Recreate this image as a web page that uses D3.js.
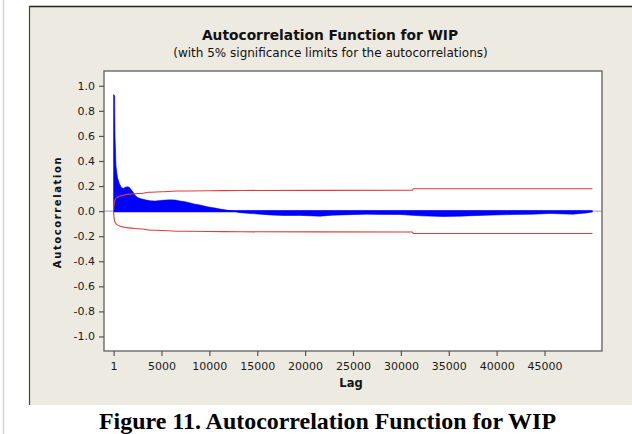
<!DOCTYPE html>
<html>
<head>
<meta charset="utf-8">
<script src="https://cdn.jsdelivr.net/npm/d3@7"></script>
<style>
  html, body { margin: 0; padding: 0; background: #ffffff; }
  svg { display: block; }
</style>
</head>
<body>
<svg id="chart" width="632" height="434"></svg>
<script>
// ---- data ----
const acfLags = [1, 110, 150, 250, 400, 600, 804, 1013, 1221, 1430, 1638, 1847, 2087, 2264, 2473, 2786,
  3308, 3830, 4350, 4872, 5394, 5915, 6437, 6958, 7480, 8001, 8523, 9045, 9566, 10088, 10610,
  11131, 11653, 12174, 12487, 13218, 14262, 15305, 16348, 17704, 19477, 21563, 22919, 24693,
  26435, 27822, 29908, 31994, 34393, 36166, 38982, 41694, 43780, 45554, 47953, 49413, 50000];
const acfValues = [0.93, 0.92, 0.6, 0.36, 0.27, 0.22, 0.19, 0.18, 0.19, 0.195, 0.19, 0.17, 0.147, 0.125, 0.11, 0.10,
  0.09, 0.082, 0.08, 0.085, 0.088, 0.09, 0.088, 0.08, 0.075, 0.065, 0.055, 0.048, 0.038, 0.03, 0.024,
  0.016, 0.01, 0.003, 0.0, -0.012, -0.018, -0.024, -0.03, -0.035, -0.034, -0.04, -0.032, -0.028,
  -0.024, -0.026, -0.027, -0.037, -0.043, -0.04, -0.032, -0.027, -0.024, -0.019, -0.024, -0.014, -0.005];

const limitLags = [1, 40, 100, 200, 400, 700, 1100, 1600, 2200, 3100, 3600, 5000, 6600, 10000, 13500, 31200, 31300, 50000];
const limitValues = [0.005, 0.045, 0.075, 0.095, 0.11, 0.12, 0.128, 0.134, 0.139, 0.143, 0.15, 0.154, 0.16, 0.162, 0.165, 0.167, 0.178, 0.178];

const xTicks = [1, 5000, 10000, 15000, 20000, 25000, 30000, 35000, 40000, 45000];
const yTicks = [-1.0, -0.8, -0.6, -0.4, -0.2, 0.0, 0.2, 0.4, 0.6, 0.8, 1.0];

const titleText = "Autocorrelation Function for WIP";
const subtitleText = "(with 5% significance limits for the autocorrelations)";
const xLabel = "Lag";
const yLabel = "Autocorrelation";
const captionText = "Figure 11. Autocorrelation Function for WIP";

// ---- layout ----
const svg = d3.select("#chart");
const plot = { left: 104, right: 602, top: 71, bottom: 351 };
const font = "'DejaVu Sans', Verdana, sans-serif";

// page edge line
svg.append("line").attr("x1", 3.5).attr("x2", 3.5).attr("y1", 0).attr("y2", 434)
  .attr("stroke", "#d4d4d4").attr("stroke-width", 1.5);

// beige panel
svg.append("rect").attr("x", 29).attr("y", 6.5).attr("width", 603).attr("height", 398.5)
  .attr("fill", "#EDEAE2");
svg.append("line").attr("x1", 29).attr("x2", 632).attr("y1", 6.5).attr("y2", 6.5)
  .attr("stroke", "#222").attr("stroke-width", 1.5);
svg.append("line").attr("x1", 29.5).attr("x2", 29.5).attr("y1", 6).attr("y2", 405)
  .attr("stroke", "#444").attr("stroke-width", 1.2);

// scales
const x = d3.scaleLinear().domain([-1000, 51000]).range([plot.left, plot.right]);
const y = d3.scaleLinear().domain([-1.116, 1.118]).range([plot.bottom, plot.top]);

// plot background
svg.append("rect").attr("x", plot.left).attr("y", plot.top)
  .attr("width", plot.right - plot.left).attr("height", plot.bottom - plot.top)
  .attr("fill", "#ffffff");

// zero reference
svg.append("line").attr("x1", plot.left).attr("x2", plot.right)
  .attr("y1", y(0)).attr("y2", y(0)).attr("stroke", "#9a9ab0").attr("stroke-width", 1);

// ACF bars (dense) as area
const acfData = acfLags.map((l, i) => ({ lag: l, v: acfValues[i] }));
svg.append("path").datum(acfData)
  .attr("fill", "#0000FF")
  .attr("stroke", "#0000FF").attr("stroke-width", 0.6)
  .attr("d", d3.area().x(d => x(d.lag)).y0(y(0)).y1(d => y(d.v)));
svg.append("line").attr("x1", x(acfLags[0])).attr("x2", x(acfLags[acfLags.length - 1]))
  .attr("y1", y(0)).attr("y2", y(0)).attr("stroke", "#0000FF").attr("stroke-width", 2);

// significance limits
const limData = limitLags.map((l, i) => ({ lag: l, v: limitValues[i] }));
const limLine = d3.line().x(d => x(d.lag)).y(d => y(d.v)).curve(d3.curveMonotoneX);
svg.append("path").datum(limData).attr("fill", "none").attr("stroke", "#E23B3B").attr("stroke-width", 1.1)
  .attr("d", limLine);
svg.append("path").datum(limData.map(d => ({ lag: d.lag, v: -d.v })))
  .attr("fill", "none").attr("stroke", "#E23B3B").attr("stroke-width", 1.1)
  .attr("d", limLine);

// frame
svg.append("rect").attr("x", plot.left).attr("y", plot.top)
  .attr("width", plot.right - plot.left).attr("height", plot.bottom - plot.top)
  .attr("fill", "none").attr("stroke", "#6a6a6a").attr("stroke-width", 1.4);

// axes
const yAxis = svg.append("g").attr("transform", `translate(${plot.left},0)`)
  .call(d3.axisLeft(y).tickValues(yTicks).tickFormat(d => d.toFixed(1)).tickSize(5).tickPadding(4));
const xAxis = svg.append("g").attr("transform", `translate(0,${plot.bottom})`)
  .call(d3.axisBottom(x).tickValues(xTicks).tickFormat(d => String(d)).tickSize(5).tickPadding(6));
[yAxis, xAxis].forEach(g => {
  g.select(".domain").remove();
  g.selectAll(".tick line").attr("stroke", "#555").attr("stroke-width", 1.2);
  g.selectAll(".tick text").attr("fill", "#1a1a1a").style("font-family", font).style("font-size", "11px");
});

// titles
svg.append("text").attr("x", 330).attr("y", 39.5).attr("text-anchor", "middle")
  .style("font-family", font).style("font-size", "13.8px").style("font-weight", "bold")
  .attr("fill", "#111").text(titleText);
svg.append("text").attr("x", 330.5).attr("y", 56.5).attr("text-anchor", "middle")
  .style("font-family", font).style("font-size", "12px")
  .attr("fill", "#111").text(subtitleText);

// axis labels
svg.append("text").attr("x", 351).attr("y", 387).attr("text-anchor", "middle")
  .style("font-family", font).style("font-size", "11.5px").style("font-weight", "bold")
  .attr("fill", "#111").text(xLabel);
svg.append("text").attr("transform", "translate(61,212) rotate(-90)").attr("text-anchor", "middle")
  .style("font-family", font).style("font-size", "10px").style("font-weight", "bold")
  .style("letter-spacing", "1.6px")
  .attr("fill", "#111").text(yLabel);

// caption
svg.append("text").attr("x", 327.5).attr("y", 428.5).attr("text-anchor", "middle")
  .style("font-family", "'Liberation Serif', 'Times New Roman', serif").style("font-size", "23.5px")
  .style("font-weight", "bold").attr("fill", "#000")
  .attr("textLength", 457).attr("lengthAdjust", "spacingAndGlyphs")
  .text(captionText);
</script>
</body>
</html>
